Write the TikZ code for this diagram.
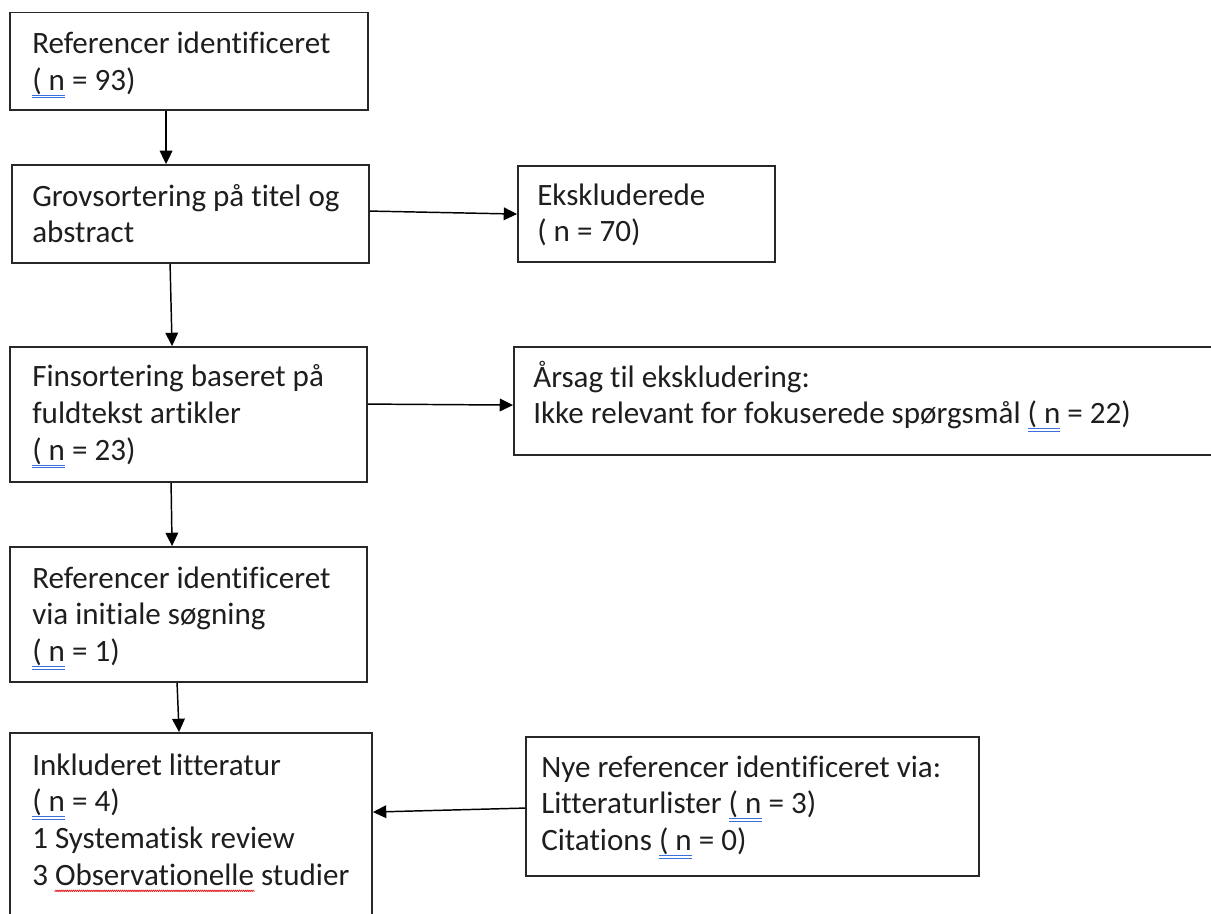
\documentclass[tikz,border=0pt]{standalone}
\usepackage{fontspec}
\setmainfont{Carlito}[Ligatures=NoCommon]
\usetikzlibrary{arrows.meta,fit,calc}
\definecolor{spellblue}{RGB}{60,110,220}
\definecolor{spellred}{RGB}{225,35,35}
\definecolor{ink}{RGB}{30,30,30}
\definecolor{edge}{RGB}{40,40,40}
\newsavebox\spellbox
\newsavebox\zigbox
\newcommand\spelldbl[1]{\sbox\spellbox{#1}\rlap{\color{spellblue}\raisebox{-6pt}{\vbox{\hrule width\wd\spellbox height .7pt\kern1.1pt\hrule height .7pt}}}\usebox\spellbox}
\newcommand\spellwave[1]{\sbox\spellbox{#1}\sbox\zigbox{\tikz[x=1pt,y=1pt]\draw[spellred,line width=0.55pt] (0,0)--(1,1.2)--(2,0);}\rlap{\raisebox{-5pt}{\hbox to\wd\spellbox{\xleaders\hbox{\kern-0.55pt\usebox\zigbox\kern-0.55pt}\hfil}}}\usebox\spellbox}
\tikzset{
  box/.style={draw=edge, line width=1.4pt, inner sep=0pt, fill=none},
  txt/.style={anchor=base west, align=left, inner sep=0pt, text=ink,
    font=\fontsize{23.3pt}{27.6pt}\selectfont},
  arr/.style={draw=black, line width=1.1pt, -{Triangle[length=10pt,width=9.5pt]}}
}
\begin{document}
\begin{tikzpicture}[x=0.75pt,y=-0.75pt]
\useasboundingbox (0,0) rectangle (1211,914);
\clip (0,0) rectangle (1211,914);
% boxes
\node[box, fit={(10,12.5) (368,110)}] (b1) {};
\node[box, fit={(12,165) (369,263)}] (b2) {};
\node[box, fit={(10,347) (367,482)}] (b3) {};
\node[box, fit={(10,547) (367,682)}] (b4) {};
\node[box, fit={(10,733) (372,960)}] (b5) {};
\node[box, fit={(526,737) (979,876)}] (b6) {};
\node[box, fit={(518,166) (775,262)}] (b7) {};
\node[box, fit={(514,347) (1260,455)}] (b8) {};
% texts (anchored at the baseline of the last line)
\node[txt] (t1) at (32,90.3) {Referencer identificeret\\\spelldbl{( n} = 93)};
\node[txt] (t2) at (32,242.8) {Grovsortering på titel og\\abstract};
\node[txt] (t3) at (32,460.1) {Finsortering baseret på\\fuldtekst artikler\\\spelldbl{( n} = 23)};
\node[txt] (t4) at (32,661.6) {Referencer identificeret\\via initiale søgning\\\spelldbl{( n} = 1)};
\node[txt] (t5) at (32,885.4) {Inkluderet litteratur\\\spelldbl{( n} = 4)\\1 Systematisk review\\3 \spellwave{Observationelle} studier};
\node[txt] (t6) at (541,850.6) {Nye referencer identificeret via:\\Litteraturlister \spelldbl{( n} = 3)\\Citations \spelldbl{( n} = 0)};
\node[txt] (t7) at (537,241.8) {Ekskluderede\\( n = 70)};
\node[txt] (t8) at (533,423.8) {Årsag til ekskludering:\\Ikke relevant for fokuserede spørgsmål \spelldbl{( n} = 22)};
% connectors
\draw[arr] ($(b1.south west)+(157,0)$) -- ($(b2.north west)+(155,0)$);
\draw[arr] ($(b2.south west)+(159,0)$) -- ($(b3.north west)+(163,0)$);
\draw[arr] ($(b3.south west)+(162,0)$) -- ($(b4.north west)+(163,0)$);
\draw[arr] ($(b4.south west)+(168,0)$) -- ($(b5.north west)+(170,0)$);
\draw[arr] ($(b2.north east)+(0,47)$) -- ($(b7.north west)+(0,49)$);
\draw[arr] ($(b3.north east)+(0,58)$) -- ($(b8.north west)+(0,59)$);
\draw[arr] ($(b6.north west)+(0,72)$) -- ($(b5.north east)+(0,80)$);
\end{tikzpicture}
\end{document}
